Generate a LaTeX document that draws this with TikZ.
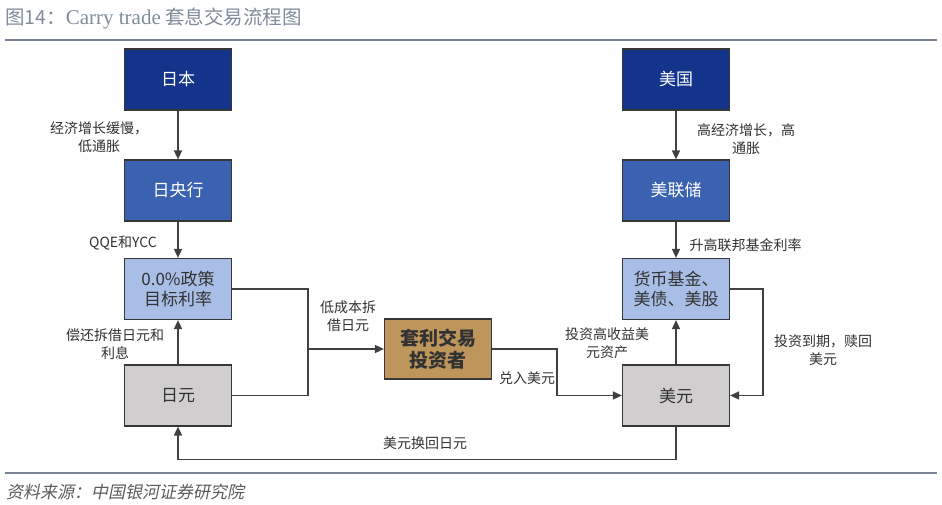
\documentclass[tikz,border=0pt]{standalone}
\usepackage{fontspec}
\setmainfont{Noto Sans CJK SC}
\newfontfamily\slantfont[FakeSlant=0.2]{Noto Sans CJK SC}
\newfontfamily\latinserif{Liberation Serif}
\usetikzlibrary{arrows.meta}
\definecolor{navy}{RGB}{20,52,140}
\definecolor{midblue}{RGB}{58,98,176}
\definecolor{lightblue}{RGB}{168,190,230}
\definecolor{grayfill}{RGB}{208,206,206}
\definecolor{tanfill}{RGB}{190,150,92}
\definecolor{boxline}{RGB}{55,55,55}
\definecolor{linecol}{RGB}{64,64,64}
\definecolor{textcol}{RGB}{50,50,50}
\definecolor{titlecol}{RGB}{128,140,155}
\definecolor{rulecol}{RGB}{122,132,150}
\tikzset{
  box/.style={draw=boxline, line width=1.2pt, minimum width=107pt, minimum height=61pt,
    inner sep=0pt, align=center, font=\fontsize{17}{20}\selectfont, text=textcol},
  conn/.style={draw=linecol, line width=1.5pt},
  arr/.style={conn, -{Triangle[length=9pt,width=8pt]}},
  lbl/.style={align=center, font=\fontsize{14}{18}\selectfont, text=textcol, inner sep=0pt}
}
\begin{document}
\begin{tikzpicture}[x=1pt,y=-1pt]
\useasboundingbox (0,0) rectangle (942,505);
% title and rules
\node[anchor=west, inner sep=0pt, text=titlecol, font=\fontsize{19.5}{22}\selectfont] (title) at (5,18)
  {图14：{\latinserif\fontsize{21}{22}\selectfont Carry trade} 套息交易流程图};
\draw[rulecol, line width=2pt] (5,40) -- (937,40);
\draw[rulecol, line width=2pt] (5,473) -- (937,473);
\node[anchor=west, inner sep=0pt, text=textcol!80, font=\slantfont\fontsize{17}{20}\selectfont] (src) at (6,492)
  {资料来源：中国银河证券研究院};

% boxes
\node[box, fill=navy, text=white] (jp) at (178,79.5) {日本};
\node[box, fill=midblue, text=white] (boj) at (178,190.5) {日央行};
\node[box, fill=lightblue] (jrate) at (178,289) {0.0\%政策\\目标利率};
\node[box, fill=grayfill] (jpy) at (178,395.5) {日元};
\node[box, fill=tanfill, minimum height=60pt, font=\bfseries\fontsize{19}{22}\selectfont] (inv) at (438,349) {套利交易\\投资者};
\node[box, fill=navy, text=white] (us) at (676,79.5) {美国};
\node[box, fill=midblue, text=white] (fed) at (676,190.5) {美联储};
\node[box, fill=lightblue] (assets) at (676,289) {货币基金、\\美债、美股};
\node[box, fill=grayfill] (usd) at (676,395.5) {美元};

% connectors
\coordinate (m1) at (308,349);
\coordinate (m2) at (557,349);
\draw[arr] (jp) -- (boj);
\draw[arr] (boj) -- (jrate);
\draw[arr] (jpy) -- (jrate);
\draw[conn] (jrate.east) -| (m1);
\draw[conn] (jpy.east) -| (m1);
\draw[arr] (m1) -- (inv.west);
\draw[arr] (inv.east) -- (m2) |- (usd.west);
\draw[arr] (us) -- (fed);
\draw[arr] (fed) -- (assets);
\draw[arr] (usd) -- (assets);
\draw[arr] (assets.east) -- ++(33,0) |- (usd.east);
\draw[arr] (usd.south) -- ++(0,33) -| (jpy.south);

% labels
\node[lbl] (l1) at (99,137) {经济增长缓慢，\\低通胀};
\node[lbl] (l2) at (123,243) {QQE和YCC};
\node[lbl] (l3) at (115,344.5) {偿还拆借日元和\\利息};
\node[lbl] (l4) at (348,316.5) {低成本拆\\借日元};
\node[lbl] (l5) at (425,443) {美元换回日元};
\node[lbl] (l6) at (527,378) {兑入美元};
\node[lbl] (l7) at (607,343) {投资高收益美\\元资产};
\node[lbl] (l8) at (823,350.5) {投资到期，赎回\\美元};
\node[lbl] (l9) at (746,139) {高经济增长，高\\通胀};
\node[lbl] (l10) at (745.5,245) {升高联邦基金利率};
\end{tikzpicture}
\end{document}
